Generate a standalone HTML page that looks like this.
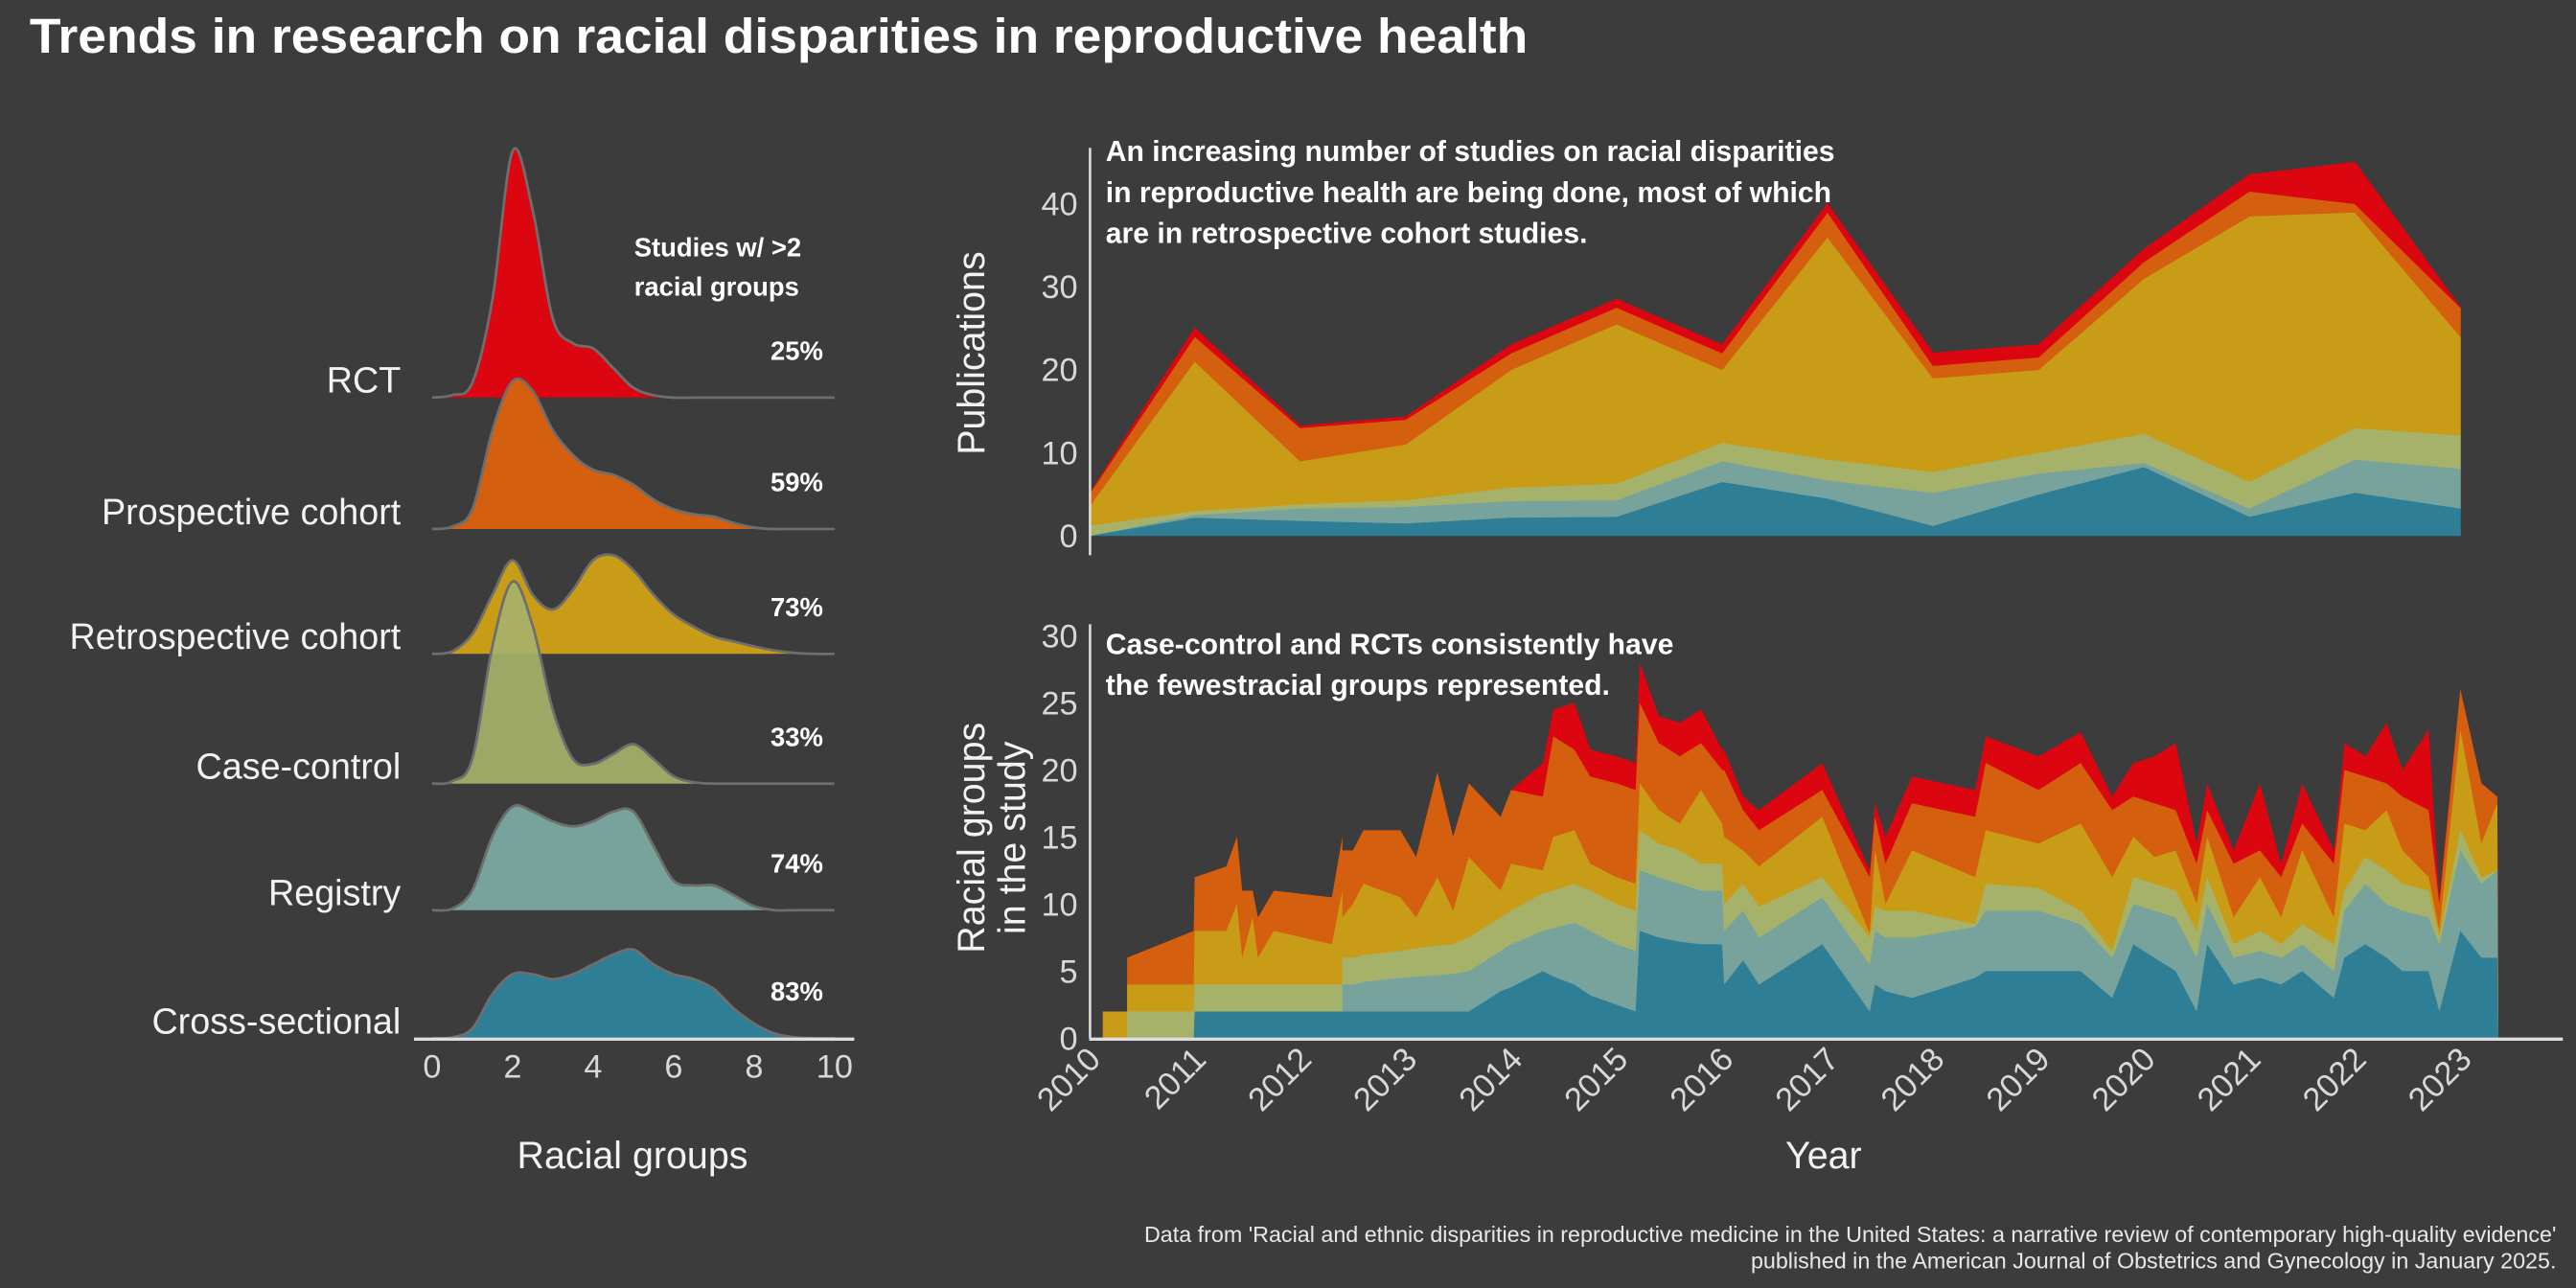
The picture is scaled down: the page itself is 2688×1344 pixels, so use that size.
<!DOCTYPE html>
<html><head><meta charset="utf-8"><style>
html,body{margin:0;padding:0;background:#3c3c3c;}
svg{display:block;font-family:"Liberation Sans",sans-serif;}
</style></head><body>
<svg id="root" width="2688" height="1344" viewBox="0 0 1568 784" xmlns="http://www.w3.org/2000/svg">
<rect width="1568" height="784" fill="#3c3c3c"/>
<text x="18" y="32" fill="#ffffff" font-size="30" font-weight="bold" textLength="912" lengthAdjust="spacingAndGlyphs">Trends in research on racial disparities in reproductive health</text>
<g id="ridge"></g>
<g id="pub"></g>
<g id="grp"></g>
<text x="1556" y="756" fill="#e8e8e8" font-size="13.6" text-anchor="end">Data from 'Racial and ethnic disparities in reproductive medicine in the United States: a narrative review of contemporary high-quality evidence'</text>
<text x="1556" y="772" fill="#e8e8e8" font-size="13.6" text-anchor="end">published in the American Journal of Obstetrics and Gynecology in January 2025.</text>
</svg>
<script>
// ---------- Ridge plot data ----------
const ridgeCategories = ["RCT","Prospective cohort","Retrospective cohort","Case-control","Registry","Cross-sectional"];
const ridgePercents = ["25%","59%","73%","33%","74%","83%"];
const ridgeXs = [0,0.5,1,1.5,2,2.5,3,3.5,4,4.5,5,5.5,6,6.5,7,7.5,8,8.5,9,9.5,10];
const densRCT = [0,0.005,0.03,0.2,0.5,0.38,0.16,0.11,0.1,0.06,0.02,0.005,0,0,0,0,0,0,0,0,0];
const densProspective = [0,0.005,0.04,0.2,0.3,0.28,0.2,0.15,0.12,0.11,0.09,0.06,0.04,0.03,0.025,0.012,0.003,0,0,0,0];
const densRetrospective = [0,0.005,0.04,0.12,0.19,0.12,0.09,0.13,0.19,0.2,0.17,0.12,0.08,0.055,0.035,0.025,0.015,0.007,0.002,0,0];
const densCaseControl = [0,0.005,0.05,0.28,0.41,0.32,0.15,0.05,0.04,0.06,0.08,0.05,0.015,0.003,0,0,0,0,0,0,0];
const densRegistry = [0,0.003,0.04,0.15,0.21,0.2,0.18,0.17,0.18,0.2,0.2,0.13,0.06,0.05,0.05,0.03,0.008,0,0,0,0];
const densCross = [0,0.002,0.02,0.09,0.13,0.13,0.12,0.13,0.15,0.17,0.18,0.15,0.13,0.12,0.1,0.06,0.03,0.01,0.002,0,0];
const ridgeTicks = [0,2,4,6,8,10];

// ---------- Publications data (per year, per design) ----------
const pubYears = [2010,2011,2012,2013,2014,2015,2016,2017,2018,2019,2020,2021,2022,2023];
const pubCross = [0,2.2,1.8,1.5,2.2,2.3,6.5,4.5,1.2,5,8.3,2.3,5.2,3.3];
const pubRegistry = [0,0.3,1.5,2,2,2,2.5,2.2,4,2.5,0.5,1,4,4.8];
const pubCaseControl = [1.2,0.5,0.5,0.8,1.6,2,2.2,2.5,2.5,2.5,3.5,3.2,3.8,4];
const pubRetro = [2.3,18,5.2,6.7,14.2,19.2,8.8,26.8,11.3,10,18.7,32,26,11.9];
const pubProspective = [1.5,3,4,3,2,2,2,3,1.5,1.5,2,3,1,3.5];
const pubRCT = [0,1,0.2,0.3,1,1,1,1,1.5,1.5,1.5,2,5,0];
const pubTicks = [0,10,20,30,40];

// ---------- Racial groups over time (stacked cumulative levels) ----------
const grpTimes = [2010.13,2010.13,2010.36,2010.36,2010.99,2011.0,2011.3,2011.4,2011.45,2011.55,2011.6,2011.75,2012.3,2012.4,2012.4,2012.5,2012.6,2012.95,2013.1,2013.3,2013.45,2013.6,2013.9,2014.0,2014.3,2014.4,2014.6,2014.75,2015.0,2015.18,2015.22,2015.4,2015.6,2015.8,2016.0,2016.02,2016.2,2016.35,2016.95,2017.4,2017.45,2017.55,2017.8,2018.4,2018.5,2019.0,2019.4,2019.7,2019.9,2020.1,2020.3,2020.5,2020.6,2020.85,2021.1,2021.3,2021.5,2021.8,2021.9,2022.1,2022.3,2022.45,2022.7,2022.8,2023.0,2023.2,2023.35,2023.36];
const grpCrossTop = [0,0,0,0,0,2,2,2,2,2,2,2,2,2,2,2,2,2,2,2,2,2,3.5,3.8,5,4.6,4,3.2,2.5,2,8,7.5,7.2,7,7,4,5.8,4,7,2,4,3.5,3,4.5,5,5,5,3,7,6,5,2,7,4,4.5,4,5,3,6,7,6,5,5,2,8,6,6,0];
const grpRegistryTop = [0,0,0,0,0,2,2,2,2,2,2,2,2,2,4,4,4.2,4.5,4.6,4.7,4.8,5,6.5,7,8,8.2,8.6,8,7,6.5,12.5,12,11.5,11,11,8,9.5,7.5,10.5,5.5,8,7.5,7.5,8.3,9.5,9.5,8.5,6,10,9.5,9,6,10,6,6.5,6,7,5,9.5,11.5,10,9.5,9,7,14,11.5,12.5,0];
const grpCaseControlTop = [0,0,0,2,2,4,4,4,4,4,4,4,4,4,6,6,6.2,6.5,6.7,6.9,7,7.5,9,9.5,10.8,11,11.5,11,10,9.5,15.5,14.5,14,13,13,10,11.5,9.8,12,7.5,9.8,9.5,9.5,8.5,11.5,11.2,9.5,6.5,12,11.5,11,8,12,7,8,7,8.5,7,11,13.5,12.5,11.5,11,7.5,15.5,12,12.5,0];
const grpRetroTop = [0,2,2,4,4,8,8,10,6,9,6,8,7,11,9,10,11.5,10.5,9,12,9.5,13.5,11,13,12.5,15,15.5,13,12,11.5,19,17,16,18.5,16,15,14,12.8,16.5,7.8,14,10,14,12,15.5,14.5,16,12,15,13.5,14,10,15,9,12,9,14,9,16,15.5,17,14,12,8,23,14.5,17.5,0];
const grpProspectiveTop = [0,2,2,6,8,12,12.8,15,11,11,9,11,10.5,15,14,14,15.5,15.5,13.5,19.8,15,19,16.5,18.5,18,22.5,21.5,19.5,19,18.5,25,22,21,22,20,20,17,15.5,18.5,12,16.5,13,17.5,16.5,20.5,18.5,20.5,17,18,17.5,17,13,17,13,14,12,16,13,20,19.5,19,18,17,10,26,19,18,0];
const grpRCTTop = [0,2,2,6,8,12,12.8,15,11,11,9,11,10.5,15,14,14,15.5,15.5,13.5,19.8,15,19,16.5,18.5,20.5,24.5,25,21.5,21,20.5,28,24,23.5,24.5,21.5,21.5,18,17,20.5,12.5,17.5,15,19.5,18.5,22.5,21,22.8,18,20.5,21,22,14.5,19,14,19,13,19,14,22,21,23.5,20,23,10.5,26,19,18,0];
const grpTicks = [0,5,10,15,20,25,30];
const yearTicks = [2010,2011,2012,2013,2014,2015,2016,2017,2018,2019,2020,2021,2022,2023];

const NS = "http://www.w3.org/2000/svg";
function mk(parent, tag, attrs, text) {
  const el = document.createElementNS(NS, tag);
  for (const k in attrs) el.setAttribute(k, attrs[k]);
  if (text !== undefined) el.textContent = text;
  parent.appendChild(el);
  return el;
}
const COLORS = {rct:"#db0610", pro:"#d4600f", ret:"#c99c18", cc:"#a6b26a", reg:"#78a39d", cs:"#2e7f96"};

// ---------- Ridge ----------
(function(){
  const g = document.getElementById('ridge');
  const xr = v => 263 + v * 24.5;
  const baselines = [242, 322, 398, 477, 554, 632];
  const dens = [densRCT, densProspective, densRetrospective, densCaseControl, densRegistry, densCross];
  const fills = [COLORS.rct, COLORS.pro, COLORS.ret, COLORS.cc, COLORS.reg, COLORS.cs];
  const scale = 300;
  function smooth(pts) {
    let d = "M" + pts[0][0] + "," + pts[0][1];
    for (let i = 0; i < pts.length - 1; i++) {
      const p0 = pts[Math.max(0, i - 1)], p1 = pts[i], p2 = pts[i + 1], p3 = pts[Math.min(pts.length - 1, i + 2)];
      const c1 = [p1[0] + (p2[0] - p0[0]) / 6, p1[1] + (p2[1] - p0[1]) / 6];
      const c2 = [p2[0] - (p3[0] - p1[0]) / 6, p2[1] - (p3[1] - p1[1]) / 6];
      d += " C" + c1[0].toFixed(1) + "," + c1[1].toFixed(1) + " " + c2[0].toFixed(1) + "," + c2[1].toFixed(1) + " " + p2[0].toFixed(1) + "," + p2[1].toFixed(1);
    }
    return d;
  }
  ridgeCategories.forEach((cat, i) => {
    const b = baselines[i];
    const pts = ridgeXs.map((x, j) => [xr(x), b - dens[i][j] * scale]);
    const curve = smooth(pts);
    const area = mk(g, 'path', {d: curve + " L" + xr(10) + "," + b + " L" + xr(0) + "," + b + " Z", fill: fills[i], 'fill-opacity': i === 3 ? 0.92 : 1});
    
    
    const ln = mk(g, 'path', {d: curve, fill: 'none', stroke: '#6e6e6e', 'stroke-width': 1.6});
    
    
    const lab = mk(g, 'text', {x: 244, y: b - 3, fill: '#f2f2f2', 'font-size': 22, 'text-anchor': 'end'}, cat);
    
    
    const pct = mk(g, 'text', {x: 501, y: b - 23, fill: '#ffffff', 'font-size': 16, 'font-weight': 'bold', 'text-anchor': 'end'}, ridgePercents[i]);
    
    
  });
  const ax = mk(g, 'line', {x1: 252, x2: 520, y1: 632.5, y2: 632.5, stroke: '#dddddd', 'stroke-width': 2});
  
  
  ridgeTicks.forEach(t => {
    const tl = mk(g, 'text', {x: xr(t), y: 656, fill: '#d8d8d8', 'font-size': 20, 'text-anchor': 'middle'}, String(t));
    
    
  });
  const tt = mk(g, 'text', {x: 385, y: 711, fill: '#f2f2f2', 'font-size': 23, 'text-anchor': 'middle'}, 'Racial groups');
  
  
  const h1 = mk(g, 'text', {x: 386, y: 156, fill: '#ffffff', 'font-size': 16, 'font-weight': 'bold'}, 'Studies w/ >2');
  
  
  const h2 = mk(g, 'text', {x: 386, y: 180, fill: '#ffffff', 'font-size': 16, 'font-weight': 'bold'}, 'racial groups');
  
  
})();

const xYear = yr => 663 + (yr - 2010) * 64.2;

// ---------- Publications ----------
(function(){
  const g = document.getElementById('pub');
  const y = v => 326 - v * 5.05;
  const layers = [pubCross, pubRegistry, pubCaseControl, pubRetro, pubProspective, pubRCT];
  const fills = [COLORS.cs, COLORS.reg, COLORS.cc, COLORS.ret, COLORS.pro, COLORS.rct];
  const names = ['cross-sectional','registry','case-control','retrospective','prospective','rct'];
  const cum = pubYears.map(() => 0);
  layers.forEach((arr, li) => {
    const lower = cum.slice();
    arr.forEach((v, i) => cum[i] += v);
    let d = "M" + pubYears.map((yr, i) => xYear(yr).toFixed(1) + "," + y(cum[i]).toFixed(1)).join(" L");
    for (let i = pubYears.length - 1; i >= 0; i--) d += " L" + xYear(pubYears[i]).toFixed(1) + "," + y(lower[i]).toFixed(1);
    const p = mk(g, 'path', {d: d + " Z", fill: fills[li], stroke: fills[li], 'stroke-width': 0.5});
    
    
  });
  const ax = mk(g, 'line', {x1: 663.5, x2: 663.5, y1: 90, y2: 338, stroke: '#dddddd', 'stroke-width': 1.5});
  
  
  pubTicks.forEach(t => {
    const tl = mk(g, 'text', {x: 656, y: y(t) + 7, fill: '#d8d8d8', 'font-size': 20, 'text-anchor': 'end'}, String(t));
    
    
  });
  const yt = mk(g, 'text', {x: 0, y: 0, fill: '#f2f2f2', 'font-size': 23, 'text-anchor': 'middle', transform: 'translate(599,215) rotate(-90)'}, 'Publications');
  
  
  ['An increasing number of studies on racial disparities','in reproductive health are being done, most of which','are in retrospective cohort studies.'].forEach((s, i) => {
    const a = mk(g, 'text', {x: 673, y: 98 + i * 25, fill: '#ffffff', 'font-size': 17.6, 'font-weight': 'bold'}, s);
    
    
  });
})();

// ---------- Racial groups over time ----------
(function(){
  const g = document.getElementById('grp');
  const y = v => 632 - v * 8.17;
  const tops = [grpRCTTop, grpProspectiveTop, grpRetroTop, grpCaseControlTop, grpRegistryTop, grpCrossTop];
  const fills = [COLORS.rct, COLORS.pro, COLORS.ret, COLORS.cc, COLORS.reg, COLORS.cs];
  const names = ['rct','prospective','retrospective','case-control','registry','cross-sectional'];
  tops.forEach((arr, li) => {
    let d = "M" + xYear(grpTimes[0]).toFixed(1) + "," + y(0);
    grpTimes.forEach((t, i) => { d += " L" + xYear(t).toFixed(1) + "," + y(arr[i]).toFixed(1); });
    d += " L" + xYear(grpTimes[grpTimes.length - 1]).toFixed(1) + "," + y(0) + " Z";
    const p = mk(g, 'path', {d: d, fill: fills[li]});
    
    
  });
  const ay = mk(g, 'line', {x1: 663.5, x2: 663.5, y1: 380, y2: 632, stroke: '#dddddd', 'stroke-width': 1.5});
  
  
  const axx = mk(g, 'line', {x1: 663, x2: 1560, y1: 632.5, y2: 632.5, stroke: '#dddddd', 'stroke-width': 2});
  
  
  grpTicks.forEach(t => {
    const tl = mk(g, 'text', {x: 656, y: y(t) + 7, fill: '#d8d8d8', 'font-size': 20, 'text-anchor': 'end'}, String(t));
    
    
  });
  yearTicks.forEach(yr => {
    const tl = mk(g, 'text', {x: 0, y: 0, fill: '#d8d8d8', 'font-size': 20, 'text-anchor': 'end', transform: 'translate(' + (xYear(yr) + 8) + ',646) rotate(-45)'}, String(yr));
    
    
  });
  const xt = mk(g, 'text', {x: 1110, y: 711, fill: '#f2f2f2', 'font-size': 23, 'text-anchor': 'middle'}, 'Year');
  
  
  const y1 = mk(g, 'text', {x: 0, y: 0, fill: '#f2f2f2', 'font-size': 23, 'text-anchor': 'middle', transform: 'translate(599,510) rotate(-90)'}, 'Racial groups');
  
  
  const y2 = mk(g, 'text', {x: 0, y: 0, fill: '#f2f2f2', 'font-size': 23, 'text-anchor': 'middle', transform: 'translate(624,510) rotate(-90)'}, 'in the study');
  
  
  ['Case-control and RCTs consistently have','the fewestracial groups represented.'].forEach((s, i) => {
    const a = mk(g, 'text', {x: 673, y: 398 + i * 25, fill: '#ffffff', 'font-size': 17.6, 'font-weight': 'bold'}, s);
    
    
  });
})();
</script>
</body></html>
